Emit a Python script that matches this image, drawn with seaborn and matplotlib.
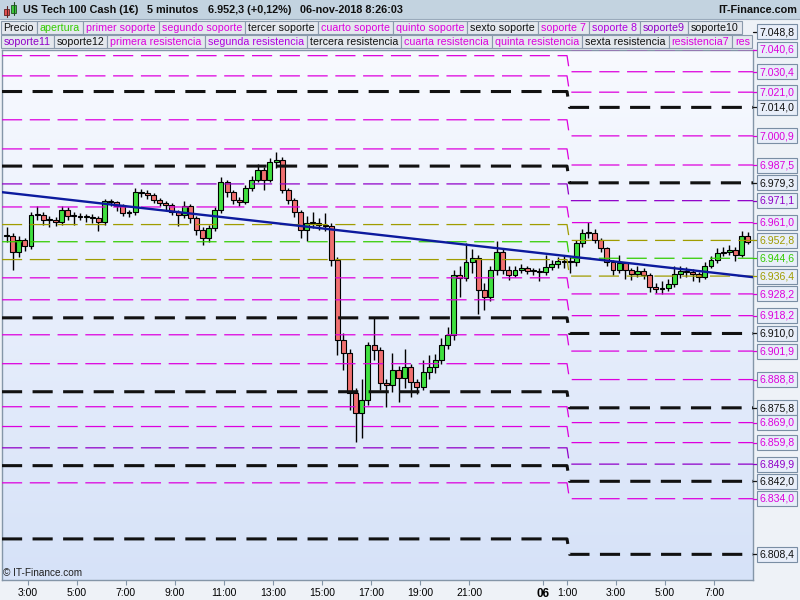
import numpy as np
import pandas as pd
import matplotlib
matplotlib.use("Agg")
import matplotlib.pyplot as plt
from matplotlib.patches import Rectangle
from matplotlib.colors import LinearSegmentedColormap
import seaborn as sns

# 15 minute candles, 05-nov-2018 02:00 -> 06-nov-2018 08:15
close = [
    6954.8, 6947.5, 6953.0, 6950.2, 6964.5, 6964.5, 6962.2, 6962.2, 6961.3, 6966.8,
    6964.0, 6964.0, 6963.6, 6963.6, 6963.1, 6961.3, 6970.9, 6970.5, 6968.6, 6965.4,
    6965.9, 6975.1, 6974.6, 6973.7, 6971.4, 6970.0, 6969.1, 6965.9, 6964.5, 6968.6,
    6963.1, 6957.6, 6953.9, 6958.5, 6966.8, 6979.7, 6975.1, 6971.4, 6970.5, 6976.9,
    6980.6, 6985.2, 6980.6, 6988.9, 6989.8, 6976.0, 6971.4, 6965.9, 6957.6, 6960.8,
    6960.8, 6959.9, 6959.4, 6943.8, 6907.0, 6901.0, 6882.6, 6873.4, 6879.4, 6904.7,
    6902.4, 6887.2, 6886.3, 6893.2, 6889.5, 6894.6, 6887.7, 6885.4, 6892.3, 6894.6,
    6897.8, 6904.7, 6909.3, 6936.9, 6935.5, 6942.9, 6944.7, 6930.0, 6926.8, 6939.2,
    6947.5, 6939.2, 6936.9, 6939.2, 6940.1, 6938.7, 6938.7, 6938.3, 6940.6, 6941.9,
    6943.3, 6942.9, 6942.9, 6951.6, 6956.2, 6956.2, 6953.0, 6949.3, 6942.9, 6939.2,
    6942.4, 6939.2, 6937.4, 6938.7, 6936.9, 6931.4, 6930.5, 6930.9, 6932.8, 6937.4,
    6938.7, 6938.3, 6937.4, 6936.0, 6941.0, 6943.8, 6947.0, 6947.5, 6948.4, 6946.1,
    6954.8, 6952.3]
high = [
    6959.0, 6956.0, 6955.0, 6954.0, 6966.0, 6968.5, 6966.0, 6964.0, 6963.5, 6968.5,
    6968.0, 6966.0, 6965.5, 6965.0, 6965.0, 6964.0, 6972.0, 6972.0, 6971.0, 6969.5,
    6967.0, 6977.0, 6976.5, 6976.0, 6974.5, 6972.5, 6971.0, 6970.0, 6967.0, 6971.0,
    6969.5, 6964.0, 6959.0, 6960.0, 6968.0, 6982.0, 6980.5, 6976.0, 6973.0, 6978.5,
    6982.5, 6988.0, 6986.5, 6990.5, 6993.5, 6991.0, 6977.0, 6972.5, 6967.0, 6964.0,
    6966.0, 6963.0, 6965.5, 6961.0, 6945.0, 6910.0, 6903.0, 6885.0, 6889.0, 6906.0,
    6917.0, 6904.0, 6889.0, 6901.0, 6895.0, 6903.0, 6896.0, 6889.0, 6898.0, 6900.0,
    6900.5, 6908.0, 6913.0, 6939.0, 6941.0, 6951.5, 6949.0, 6946.0, 6933.0, 6941.0,
    6952.5, 6949.0, 6941.0, 6941.0, 6942.0, 6941.0, 6940.0, 6940.0, 6946.0, 6944.0,
    6945.0, 6946.0, 6945.0, 6953.0, 6958.0, 6961.5, 6958.0, 6954.0, 6950.0, 6944.0,
    6946.0, 6943.0, 6940.0, 6941.0, 6940.0, 6938.0, 6933.0, 6934.0, 6935.0, 6941.0,
    6941.0, 6940.5, 6939.5, 6938.5, 6943.0, 6945.5, 6949.5, 6950.0, 6950.5, 6950.0,
    6957.0, 6956.5]
low = [
    6952.0, 6939.0, 6945.0, 6948.0, 6949.0, 6962.0, 6960.0, 6959.0, 6959.5, 6960.0,
    6962.0, 6960.0, 6962.0, 6961.5, 6961.0, 6957.0, 6960.0, 6968.5, 6966.5, 6964.0,
    6963.5, 6964.5, 6973.0, 6972.0, 6970.0, 6968.5, 6967.0, 6964.5, 6959.5, 6963.0,
    6961.0, 6955.5, 6950.5, 6952.0, 6957.0, 6965.5, 6973.0, 6969.5, 6968.5, 6969.5,
    6975.5, 6979.5, 6976.0, 6979.5, 6986.0, 6974.5, 6969.5, 6963.5, 6954.0, 6952.5,
    6958.5, 6957.5, 6957.0, 6941.0, 6900.0, 6893.0, 6875.0, 6860.0, 6862.0, 6877.0,
    6898.0, 6884.0, 6876.0, 6883.0, 6878.5, 6885.0, 6881.0, 6882.0, 6884.0, 6889.0,
    6892.0, 6896.0, 6903.0, 6907.0, 6927.0, 6934.0, 6938.0, 6919.0, 6921.0, 6925.0,
    6937.0, 6937.5, 6934.5, 6936.0, 6938.0, 6937.5, 6937.0, 6934.0, 6937.0, 6939.0,
    6940.0, 6940.0, 6938.0, 6941.0, 6950.0, 6954.0, 6951.5, 6947.5, 6941.0, 6937.0,
    6938.0, 6935.0, 6934.5, 6936.0, 6935.0, 6929.0, 6928.5, 6928.0, 6929.5, 6931.5,
    6935.5, 6936.0, 6934.0, 6933.5, 6935.0, 6940.0, 6942.5, 6945.5, 6946.0, 6943.5,
    6945.0, 6951.0]
first_open = 6954.8

# support / resistance levels: session of 05-nov (until 1:00) and of 06-nov
level_kind = ['piv', 'sr', 'sr', 'sr', 'piv', 'sr', 'sr', 'piv', 'mid', 'sr', 'band',
              'open', 'band', 'sr', 'sr', 'piv', 'sr', 'sr', 'piv', 'sr', 'sr', 'mid',
              'piv', 'sr', 'piv']
level_old = [7056.2, 7048.0, 7037.8, 7028.5, 7021.3, 7008.3, 6994.9, 6987.0, 6978.8,
             6968.2, 6960.1, 6952.2, 6944.0, 6935.6, 6925.5, 6917.2, 6909.4, 6896.1,
             6883.2, 6876.3, 6867.2, 6857.4, 6849.2, 6841.3, 6815.5]
level_new = [7048.8, 7040.6, 7030.4, 7021.0, 7014.0, 7000.9, 6987.5, 6979.3, 6971.1,
             6961.0, 6952.8, 6944.6, 6936.4, 6928.2, 6918.2, 6910.0, 6901.9, 6888.8,
             6875.8, 6869.0, 6859.8, 6849.9, 6842.0, 6834.0, 6808.4]
switch_hour = 25.0  # 06-nov 1:00

trend_values = [6975.0, 6935.9]

tick_hours = [3, 5, 7, 9, 11, 13, 15, 17, 19, 21, 24, 25, 27, 29, 31]
tick_labels = ['3:00', '5:00', '7:00', '9:00', '11:00', '13:00', '15:00', '17:00',
               '19:00', '21:00', '06', '1:00', '3:00', '5:00', '7:00']

legend_row1 = [('Precio', 'price'), ('apertura', 'open'), ('primer soporte', 'sr'),
               ('segundo soporte', 'sr'), ('tercer soporte', 'piv'), ('cuarto soporte', 'sr'),
               ('quinto soporte', 'sr'), ('sexto soporte', 'piv'), ('soporte 7', 'sr'),
               ('soporte 8', 'sr2'), ('soporte9', 'mid'), ('soporte10', 'piv')]
legend_row2 = [('soporte11', 'mid'), ('soporte12', 'piv'), ('primera resistencia', 'sr'),
               ('segunda resistencia', 'sr2'), ('tercera resistencia', 'piv'),
               ('cuarta resistencia', 'sr'), ('quinta resistencia', 'sr'),
               ('sexta resistencia', 'piv'), ('resistencia7', 'sr'), ('resistencia8', 'sr')]

title_parts = ['US Tech 100 Cash (1€)', '5 minutos', '6.952,3 (+0,12%)', '06-nov-2018 8:26:03']

colors = {'piv': '#111111', 'price': '#111111', 'sr': '#dd00dd', 'sr2': '#b000e0',
          'mid': '#9000c8', 'band': '#a09c00', 'open': '#33cc00'}
styles = {'piv': dict(lw=2.2, ls=(0, (14.5, 7.5))),
          'sr': dict(lw=0.9, ls=(0, (14.5, 5.5))),
          'mid': dict(lw=0.9, ls=(0, (14.5, 5.5))),
          'band': dict(lw=0.9, ls=(0, (14.5, 5.5))),
          'open': dict(lw=0.9, ls=(0, (14.5, 5.5)))}

sns.set_theme(style="white")
plt.rcParams['font.family'] = ['Liberation Sans', 'DejaVu Sans']
plt.rcParams['lines.scale_dashes'] = False

W, H = 800, 600
L, R, T, B = 2, 753, 50, 580
fig = plt.figure(figsize=(8, 6), dpi=100)
fig.patch.set_facecolor('#eef2f7')
ax = fig.add_axes([L / W, 1 - B / H, (R - L) / W, (B - T) / H])

xmin, xmax = 1.94, 32.59
ymin, ymax = 6796.6, 7040.4

# plot background gradient
bg = LinearSegmentedColormap.from_list('bg', ['#f8faff', '#d6e2f8'])
ax.imshow(np.linspace(0, 1, 256).reshape(-1, 1), cmap=bg, aspect='auto',
          extent=[xmin, xmax, ymin, ymax], origin='upper', zorder=0)

# candles
df = pd.DataFrame({'close': close, 'high': high, 'low': low})
df['open'] = df['close'].shift(1).fillna(first_open)
times = pd.date_range('2018-11-05 02:00', periods=len(df), freq='15min')
df['hour'] = (times - pd.Timestamp('2018-11-05')) / pd.Timedelta(hours=1) + 0.125
body_lo = df[['open', 'close']].min(axis=1)
body_hi = df[['open', 'close']].max(axis=1)
up = df['close'] >= df['open']
ax.vlines(df['hour'], np.minimum(df['low'], body_lo), np.maximum(df['high'], body_hi),
          color='black', lw=1.0, zorder=2)
ax.bar(df['hour'], (body_hi - body_lo).clip(lower=0.5), bottom=body_lo, width=0.2,
       color=np.where(up, '#3fe03f', '#f07070'), edgecolor='black', linewidth=0.8, zorder=2.5)

# pivot levels
for kind, a, b in zip(level_kind, level_old, level_new):
    st = styles[kind]
    sns.lineplot(x=[xmin, switch_hour, switch_hour + 0.1, xmax], y=[a, a, b, b], ax=ax,
                 color=colors[kind], lw=st['lw'], linestyle=st['ls'], sort=False,
                 estimator=None, zorder=3)

# trend line
sns.lineplot(x=[xmin, xmax], y=trend_values, ax=ax, color='#0c1a9e', lw=1.7,
             sort=False, estimator=None, zorder=4)

ax.set_xlim(xmin, xmax)
ax.set_ylim(ymin, ymax)
ax.set_xlabel('')
ax.set_ylabel('')
ax.set_yticks([])
ax.set_xticks(tick_hours, tick_labels)
ax.tick_params(axis='x', bottom=True, length=3.5, width=0.8, color='#8496a8',
               labelsize=7.5, pad=2, labelcolor='black')
for lab in ax.get_xticklabels():
    if lab.get_text() == '06':
        lab.set_fontweight('bold')
        lab.set_fontsize(8.5)
for sp in ax.spines.values():
    sp.set_color('#8496a8')
    sp.set_linewidth(1)

# overlay in pixel coordinates for header, legend and price labels
ov = fig.add_axes([0, 0, 1, 1])
ov.set_xlim(0, W)
ov.set_ylim(H, 0)
ov.axis('off')
ov.set_zorder(10)
renderer = fig.canvas.get_renderer()

ov.add_patch(Rectangle((0, 0), W, 19, fc='#c3d3e0', ec='none'))
ov.plot([0, W], [19, 19], color='#9aaabb', lw=0.8)
# small candle icon
ov.plot([6.5, 6.5], [6, 17], color='#602020', lw=0.8)
ov.add_patch(Rectangle((4, 8.5), 5, 6, fc='#e25050', ec='#602020', lw=0.6))
ov.plot([13.5, 13.5], [2, 15], color='#205020', lw=0.8)
ov.add_patch(Rectangle((11, 4.5), 5, 8.5, fc='#3ccc3c', ec='#205020', lw=0.6))

xc = 23
for part in title_parts:
    t = ov.text(xc, 10, part, fontsize=7.8, fontweight='bold', va='center', ha='left',
                color='#101010')
    xc += t.get_window_extent(renderer=renderer).width + 9
ov.text(797, 10, 'IT-Finance.com', fontsize=7.8, fontweight='bold', va='center',
        ha='right', color='#101010')

legend_right = 752
for row, (top, bot) in zip([legend_row1, legend_row2], [(20.5, 34.0), (34.5, 48.0)]):
    xc = 0.5
    for name, kind in row:
        t = ov.text(xc + 3, (top + bot) / 2 + 0.3, name, fontsize=7.7, va='center',
                    ha='left', color=colors[kind], zorder=2)
        w = t.get_window_extent(renderer=renderer).width
        # the legend strip is cut at the price scale: keep only what fits
        shown = name
        while xc + 3 + w > legend_right and len(shown) > 1:
            shown = shown[:-1]
            t.set_text(shown)
            w = t.get_window_extent(renderer=renderer).width
        bw = min(w + 6, legend_right - xc)
        ov.add_patch(Rectangle((xc, top), bw, bot - top, fc='#e4e8ee', ec='#8a9aac',
                               lw=0.8, zorder=1))
        xc += w + 6
        if xc >= legend_right:
            break


def v2y(v):
    return H - ax.transData.transform((xmin, v))[1]


for kind, v in zip(level_kind, level_new):
    y = v2y(v)
    c = colors[kind]
    ov.plot([R, 757], [y, y], color=c, lw=0.9, zorder=3)
    ov.add_patch(Rectangle((757, y - 7.5), 40, 15, fc='#e8eef9', ec='#7a8ea4', lw=0.8,
                           zorder=3))
    txt = f"{v:,.1f}".replace(',', 'X').replace('.', ',').replace('X', '.')
    ov.text(777, y + 0.3, txt, fontsize=7.6, color=c, ha='center', va='center', zorder=4)

ov.text(3, 573, '© IT-Finance.com', fontsize=7.2, va='center', ha='left', color='#202020')

fig.savefig('out.png', dpi=100)
